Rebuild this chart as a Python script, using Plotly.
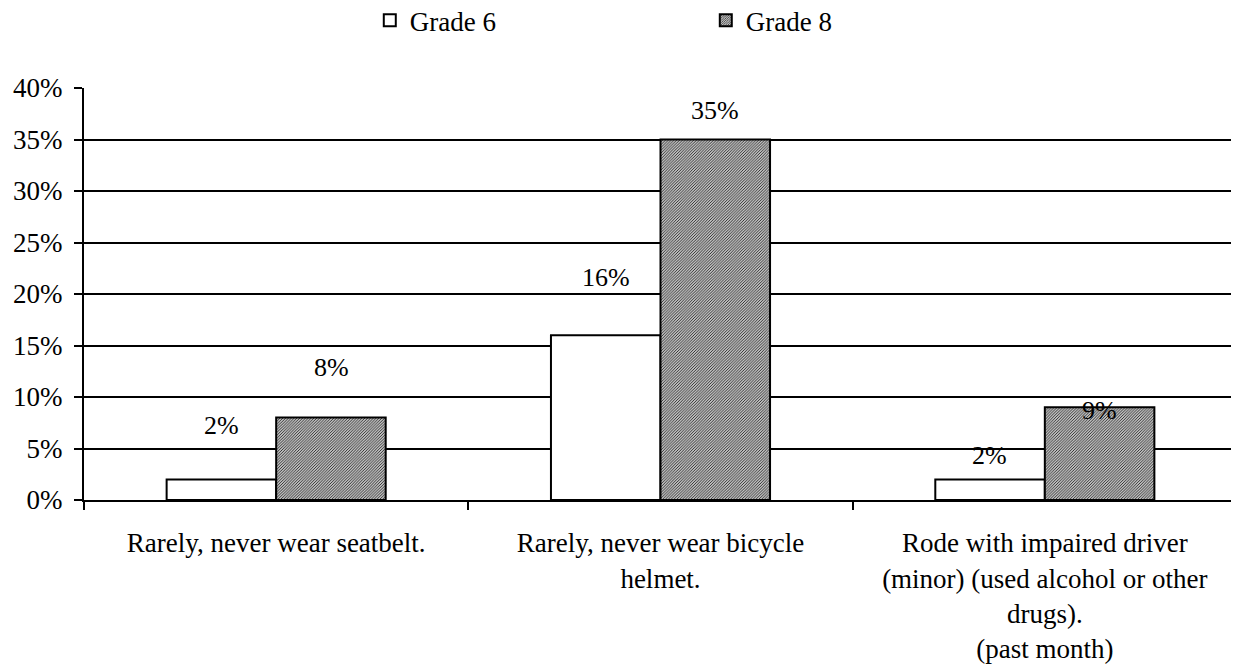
import plotly.graph_objects as go

categories = [
    "Rarely, never wear seatbelt.",
    "Rarely, never wear bicycle<br>helmet.",
    "Rode with impaired driver<br>(minor) (used alcohol or other<br>drugs).<br>(past month)",
]
grade6 = [2, 16, 2]
grade8 = [8, 35, 9]
# label offsets (pixels above bar top) as in the reference
g6_label_shift = [54, 58, 24]
g8_label_shift = [50, 29, -3]

FONT = "Liberation Serif, Times New Roman, serif"
cat_ids = ["c1", "c2", "c3"]

fig = go.Figure()
fig.add_trace(go.Bar(
    name="Grade 6", x=cat_ids, y=grade6,
    marker=dict(color="white", line=dict(color="black", width=2)),
    offsetgroup="g6",
))
fig.add_trace(go.Bar(
    name="Grade 8", x=cat_ids, y=grade8,
    marker=dict(color="white", line=dict(color="black", width=2),
                pattern=dict(shape="/", size=2, solidity=0.5,
                             fgcolor="#222222", bgcolor="white", fillmode="replace")),
    offsetgroup="g8",
))

annotations = []
for i, c in enumerate(cat_ids):
    annotations.append(dict(x=i - 0.143, y=grade6[i], xref="x", yref="y",
                            text=f"{grade6[i]}%", showarrow=False,
                            yshift=g6_label_shift[i], font=dict(size=26, color="black", family=FONT)))
    annotations.append(dict(x=i + 0.143, y=grade8[i], xref="x", yref="y",
                            text=f"{grade8[i]}%", showarrow=False,
                            yshift=g8_label_shift[i], font=dict(size=26, color="black", family=FONT)))

fig.update_layout(
    width=1239, height=671,
    margin=dict(l=76, r=10, t=80, b=179),
    paper_bgcolor="white", plot_bgcolor="white",
    font=dict(family=FONT, size=27, color="black"),
    barmode="group", bargap=0.43, bargroupgap=0,
    legend=dict(orientation="h", xref="container", yref="container",
                x=0.292, y=0.981, xanchor="left", yanchor="middle",
                entrywidth=291, entrywidthmode="pixels", itemwidth=30,
                font=dict(size=27, family=FONT), traceorder="normal"),
    annotations=annotations,
    showlegend=True,
)
fig.update_xaxes(
    tickmode="array", tickvals=cat_ids, ticktext=categories,
    tickson="boundaries", ticks="outside", ticklen=8, tickwidth=2, tickcolor="black",
    showline=True, linecolor="black", linewidth=2, automargin=False,
    ticklabelstandoff=18,
    tickfont=dict(size=27, family=FONT), showgrid=False,
)
fig.update_yaxes(
    range=[0, 40], dtick=5, ticksuffix="%",
    ticks="outside", ticklen=8, tickwidth=2, tickcolor="black",
    showline=True, linecolor="black", linewidth=2, automargin=False,
    ticklabelstandoff=6,
    showgrid=True, gridcolor="black", gridwidth=2,
    zeroline=False, tickfont=dict(size=27, family=FONT),
)

fig.write_html("out.html")
